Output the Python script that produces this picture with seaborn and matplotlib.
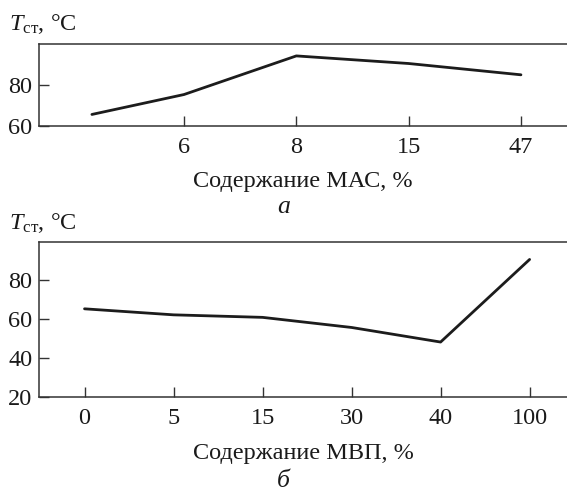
import pandas as pd
import seaborn as sns
import matplotlib.pyplot as plt

# данные (а) - содержание МАС
mac_labels = ["", "6", "8", "15", "47"]
mac_pos = [0.18, 1, 2, 3, 4]
mac_temp = [65.6, 75.3, 94.1, 90.4, 84.9]

# данные (б) - содержание МВП
mvp_labels = ["0", "5", "15", "30", "40", "100"]
mvp_temp = [65.4, 62.3, 61.0, 55.8, 48.3, 90.8]

sns.set_style("ticks")
plt.rcParams['font.family'] = ['Liberation Serif', 'DejaVu Serif']
plt.rcParams['mathtext.fontset'] = 'custom'
plt.rcParams['mathtext.rm'] = 'Liberation Serif'
plt.rcParams['mathtext.it'] = 'Liberation Serif:italic'

FS = 17.5
line_col = "#1c1c1c"
spine_col = "#333333"

fig = plt.figure(figsize=(5.67, 4.92), dpi=100)
ax1 = fig.add_axes([0.069, 0.744, 0.931, 0.167])
ax2 = fig.add_axes([0.069, 0.193, 0.931, 0.316])

df1 = pd.DataFrame({"x": mac_pos, "t": mac_temp})
df2 = pd.DataFrame({"x": range(len(mvp_labels)), "t": mvp_temp})

sns.lineplot(data=df1, x="x", y="t", ax=ax1, color=line_col, linewidth=2.0)
sns.lineplot(data=df2, x="x", y="t", ax=ax2, color=line_col, linewidth=2.0)

def style(ax, ylim, yticks, xticks, xlabels, xlim, xlabel, xpad, lpad):
    ax.set_ylim(*ylim)
    ax.set_xlim(*xlim)
    ax.set_yticks(yticks)
    ax.set_xticks(xticks)
    ax.set_xticklabels(xlabels)
    ax.tick_params(direction="in", length=7, width=1, colors=spine_col,
                   labelcolor="#1a1a1a", labelsize=FS)
    ax.tick_params(axis="x", pad=xpad)
    ax.tick_params(axis="y", pad=5)
    for s in ["left", "top", "bottom"]:
        ax.spines[s].set_visible(True)
        ax.spines[s].set_color(spine_col)
        ax.spines[s].set_linewidth(1.1)
    ax.spines["right"].set_visible(False)
    ax.set_ylabel("")
    ax.set_xlabel(xlabel, fontsize=FS, color="#1a1a1a", labelpad=lpad)

style(ax1, (60, 100), [60, 80], [1, 2, 3, 4], mac_labels[1:], (-0.29, 4.41),
      "Содержание МАС, %", 8, 9)
style(ax2, (20, 100), [20, 40, 60, 80], list(range(6)), mvp_labels, (-0.51, 5.42),
      "Содержание МВП, %", 8, 10)

ylab = r"$T_{\mathrm{ст}}$, °C"
fig.text(0.016, 1 - 30 / 492, ylab, fontsize=FS, color="#1a1a1a")
fig.text(0.016, 1 - 229 / 492, ylab, fontsize=FS, color="#1a1a1a")
fig.text(0.5, 1 - 207 / 492, "а", fontsize=FS + 1, style="italic", ha="center",
         va="center", color="#1a1a1a")
fig.text(0.5, 1 - 481 / 492, "б", fontsize=FS + 1, style="italic", ha="center",
         va="center", color="#1a1a1a")

fig.savefig("out.png", dpi=100)
